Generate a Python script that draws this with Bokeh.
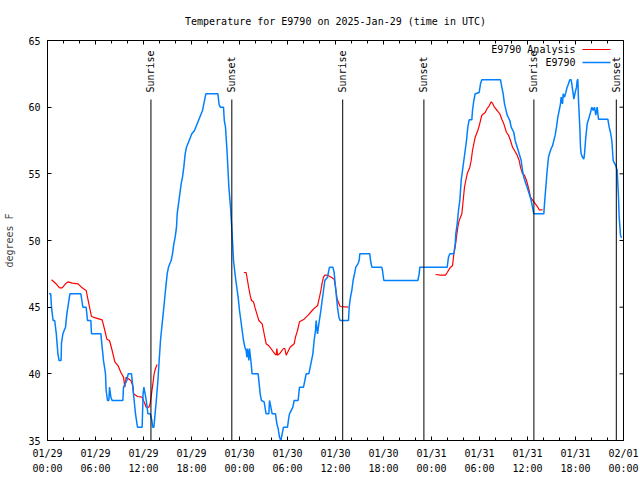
import math
from bokeh.plotting import figure
from bokeh.models import Range1d, FixedTicker, LinearAxis
from bokeh.embed import file_html
from bokeh.resources import INLINE
from bokeh.core.properties import value

FONT = "DejaVu Sans Mono"
NAN = float("nan")

title_text = "Temperature for E9790 on 2025-Jan-29 (time in UTC)"
y_label = "degrees F"
series_names = ["E9790 Analysis", "E9790"]

# hours since 2025-01-29 00:00 UTC
x_tick_hours = list(range(0, 73, 6))
x_tick_labels = ["01/29\n00:00", "01/29\n06:00", "01/29\n12:00", "01/29\n18:00",
                 "01/30\n00:00", "01/30\n06:00", "01/30\n12:00", "01/30\n18:00",
                 "01/31\n00:00", "01/31\n06:00", "01/31\n12:00", "01/31\n18:00",
                 "02/01\n00:00"]
x_minor_hours = [h for h in range(0, 73, 2) if h % 6 != 0]
y_ticks = [35, 40, 45, 50, 55, 60, 65]

sunrise_hours = [12.93, 36.9, 60.8]
sunset_hours = [23.04, 47.05, 71.1]

# observed temperature (E9790)
obs_hours = [0.2, 0.4, 0.5, 0.7, 0.9, 1.1, 1.3, 1.45, 1.7, 1.75, 1.92, 2.25, 2.42, 2.55, 2.8,
             4.17, 4.3, 4.42, 4.83, 5.0, 5.42, 5.5, 6.67, 6.83, 7.0, 7.25, 7.33, 7.5, 7.67, 7.75,
             7.92, 8.08, 9.42, 9.5, 9.92, 10.08, 10.5, 10.67, 10.83, 11.0, 11.25, 11.83, 11.95,
             12.05, 12.2, 12.35, 12.55, 12.85, 13.05, 13.15, 13.3, 13.45, 13.6, 13.8, 13.96,
             14.125, 14.29, 14.46, 14.625, 14.79, 14.96, 15.125, 15.29, 15.46, 15.625, 15.79,
             15.96, 16.125, 16.21, 16.375, 16.54, 16.71, 16.875, 17.04, 17.21, 17.375, 17.71,
             18.04, 18.375, 18.71, 19.04, 19.375, 19.54, 19.79, 21.3, 21.45, 21.6, 22.0, 22.1,
             22.25, 22.46, 22.67, 22.875, 23.08, 23.25, 23.54, 23.83, 24.0, 24.17, 24.33, 24.5,
             24.67, 24.83, 24.92, 25.0, 25.17, 25.25, 25.42, 25.58, 26.33, 26.5, 26.58, 26.75,
             27.08, 27.25, 27.33, 27.67, 27.75, 27.92, 28.08, 28.5, 28.67, 28.83, 29.0, 29.17,
             29.33, 29.5, 30.0, 30.17, 30.25, 30.67, 30.83, 31.33, 31.5, 32.0, 32.17, 32.33,
             32.67, 32.92, 33.17, 33.33, 33.5, 33.58, 33.75, 33.92, 34.17, 34.33, 34.5, 34.67,
             35.0, 35.25, 35.67, 35.83, 36.0, 36.25, 36.42, 36.58, 37.625, 37.71, 37.875, 38.04,
             38.2, 38.375, 38.54, 38.8, 38.96, 39.04, 40.29, 40.375, 40.54, 41.79, 41.875, 42.04,
             46.29, 46.46, 46.54, 49.96, 50.125, 50.29, 50.79, 50.96, 51.04, 51.21, 51.375,
             51.54, 51.71, 51.875, 52.04, 52.21, 52.375, 52.54, 52.71, 53.04, 53.125, 53.29,
             53.46, 53.96, 54.125, 54.29, 56.625, 56.79, 56.96, 57.125, 57.46, 57.79, 57.96,
             58.29, 58.46, 58.71, 58.96, 59.21, 59.375, 59.54, 59.79, 59.96, 60.21, 60.46,
             60.625, 60.79, 62.04, 62.125, 62.29, 62.46, 62.625, 62.79, 62.96, 63.125, 63.29,
             63.46, 63.625, 63.79, 63.96, 64.125, 64.21, 64.375, 64.46, 64.625, 64.79, 64.96,
             65.125, 65.29, 65.46, 65.54, 65.71, 65.79, 65.96, 66.125, 66.21, 66.29, 66.375,
             66.54, 66.625, 66.71, 66.875, 67.04, 67.125, 67.29, 67.46, 67.71, 67.875, 68.04,
             68.21, 68.375, 68.54, 68.71, 68.875, 70.04, 70.21, 70.375, 70.54, 70.71, 71.04,
             71.21, 71.375, 71.46, 71.625, 71.75]
obs_temps = [46, 46, 45, 44, 44, 43, 41.5, 41, 41, 42.3, 43, 43.5, 44.5, 45, 46,
             46, 45.5, 45, 45, 44, 44, 43, 43, 42, 41, 40, 38.75, 38, 38, 39,
             38.25, 38, 38, 39, 39.5, 40, 40, 39, 38, 37, 36, 36, 38.5,
             39, 38.5, 38, 37, 37, 36.5, 36, 36, 37, 38, 39.5, 41,
             42.5, 43.5, 44.5, 45.5, 46.5, 47.5, 48, 48.25, 48.5, 49, 49.75,
             50.25, 51, 52, 52.75, 53.5, 54.25, 54.75, 55.5, 56.5, 57, 57.5,
             58, 58.25, 58.75, 59.25, 59.75, 60.25, 61, 61, 60.2, 60, 60, 59,
             58.5, 56.5, 54, 52.5, 50.5, 48.5, 47, 45.75, 44.75, 44, 43.25, 42.5,
             42, 41.75, 41.25, 41.9, 41, 41.9, 41, 40, 40, 39, 38.5, 38,
             37.9, 37.25, 37, 37, 38, 37.5, 37, 37, 36.25, 35.9, 35.25, 35,
             35.5, 36, 36, 36.75, 37, 37.5, 38, 38, 39, 39, 39.5, 40,
             40, 40.75, 41.5, 42.5, 43.25, 44, 43, 43.75, 44.75, 45.5, 46.25, 47,
             47.25, 48, 48, 47.6, 46.5, 45, 44.25, 44, 44, 45, 45.75, 46.25,
             47, 47.5, 48, 48.25, 48.5, 49, 49, 48.5, 48, 48, 47.75, 47,
             47, 47.5, 48, 48, 48.75, 49, 49, 49.75, 50.5, 51.25, 52.25,
             53, 54.5, 55.25, 56, 56.75, 57.5, 58.5, 59.05, 59.05, 59.75, 60.5,
             61, 61.1, 61.75, 62.05, 62.05, 61.5, 61, 60.25, 59.4, 59, 58.5,
             58.1, 57.5, 57, 56.5, 56, 55.25, 54.75, 54.25, 54, 53.5, 53,
             52.5, 52, 52, 52.75, 54, 55.25, 56.25, 56.6, 56.9, 57.1, 57.5,
             57.9, 58.5, 59.25, 59.75, 60.25, 60.75, 60.25, 61, 60.75, 61.1, 61.5,
             61.75, 62.05, 62.05, 61.75, 61, 60.6, 61.1, 61.5, 62, 62.1, 60.5,
             58.5, 57, 56.5, 56.25, 56.1, 56.5, 57.75, 58.75, 59.25, 59.6, 60,
             59.75, 60, 59.4, 60, 59.1, 59.1, 58.5, 58.1, 57.5, 56, 55.6,
             55.25, 53.25, 51.75, 50.4, 50.2]

# analysis temperature (E9790 Analysis); NaN = no analysis
ana_hours = [0.5, 1.0, 1.5, 1.83, 2.33, 2.58, 3.08, 3.83, 4.33, 4.83, 5.0, 5.17, 5.5, 6.0,
             6.83, 7.17, 7.42, 7.75, 8.08, 8.42, 8.83, 9.17, 9.5, 9.67, 9.83, 10.42, 10.67,
             10.75, 11.25, 11.83, 12.17, 12.33, 12.67, 12.83, 13.0, 13.17, 13.33, 13.5, 13.7,
             18.0,
             24.54, 24.83, 25.0, 25.17, 25.33, 25.5, 25.75, 25.92, 26.17, 26.42, 26.83, 27.0,
             27.33, 27.67, 27.92, 28.42, 28.58, 28.67, 28.75, 29.0, 29.5, 29.67, 29.83, 30.08,
             30.33, 30.83, 31.0, 31.25, 31.5, 32.08, 32.58, 33.08, 33.5, 33.75, 34.0, 34.17,
             34.33, 34.5, 34.67, 35.0, 35.58, 35.83, 36.0, 36.17, 36.33, 36.58, 37.6,
             43.0,
             48.5, 49.125, 49.75, 49.96, 50.375, 50.625, 50.79, 50.96, 51.125, 51.29, 51.46,
             51.79, 51.96, 52.125, 52.29, 52.46, 52.79, 52.96, 53.125, 53.29, 53.46, 53.79,
             53.96, 54.125, 54.29, 54.71, 54.96, 55.21, 55.46, 55.625, 55.875, 56.21, 56.54,
             56.79, 57.04, 57.375, 57.625, 57.875, 58.125, 58.375, 58.71, 58.96, 59.125,
             59.375, 59.625, 59.875, 60.21, 60.375, 60.79, 61.29, 61.46, 61.875]
ana_temps = [47.05, 46.8, 46.45, 46.45, 46.8, 46.9, 46.8, 46.75, 46.45, 46.25, 45.75, 45.25, 44.3, 44.2,
             44.05, 43.25, 42.6, 42.5, 41.75, 40.9, 40.6, 40.1, 39.75, 39, 39.75, 39.5, 39.1,
             38.5, 38.3, 38.25, 37.75, 37.5, 37.5, 37.75, 38.5, 39.25, 40, 40.4, 40.7,
             NAN,
             47.6, 47.6, 47, 46.4, 45.9, 45.5, 45.4, 45, 44.5, 44, 43.75, 43.25,
             42.25, 42.1, 41.9, 41.5, 41.4, 41.9, 41.4, 41.5, 41.9, 41.9, 41.4, 41.7,
             42, 42.25, 42.75, 43.25, 43.9, 44.1, 44.4, 44.75, 45, 45.1, 45.75, 46.25,
             46.8, 47.25, 47.4, 47.4, 47.2, 47.1, 46.5, 45.75, 45.4, 45.05, 45.0,
             NAN,
             47.45, 47.4, 47.4, 47.6, 48, 48.1, 49, 49.5, 50.25, 51, 51.5,
             52, 53, 54, 54.5, 55, 55.5, 56, 56.75, 57.25, 57.75, 58.25,
             58.6, 59, 59.4, 59.6, 59.9, 60.1, 60.4, 60.3, 60, 59.75, 59.5,
             59.1, 58.75, 58.1, 57.9, 57.5, 57, 56.75, 56.4, 56, 55.5,
             55, 54.9, 54.5, 53.75, 53.25, 52.9, 52.5, 52.3, 52.3]

RED = "#ff0000"
BLUE = "#0080ff"

# frame geometry in pixels (for placing legend / marker labels / mirrored ticks)
FL, FR, FT, FB = 47, 623, 40, 440
X0, X1, Y0, Y1 = 0, 72, 35, 65
DX = (X1 - X0) / (FR - FL)   # hours per pixel
DY = (Y1 - Y0) / (FB - FT)   # degrees per pixel


def px_x(px):
    return X0 + (px - FL) * DX


def px_y(py):
    return Y1 - (py - FT) * DY


p = figure(width=640, height=480, output_backend="svg", toolbar_location=None,
           title=None,
           x_range=Range1d(X0, X1), y_range=Range1d(Y0, Y1),
           x_axis_type=None, y_axis_type=None,
           min_border_left=FL, min_border_right=640 - FR,
           min_border_top=FT, min_border_bottom=480 - FB)
p.grid.visible = False
p.outline_line_color = "black"
p.outline_line_width = 1
p.background_fill_color = "white"
p.border_fill_color = "white"

xt = FixedTicker(ticks=x_tick_hours, minor_ticks=x_minor_hours)
yt = FixedTicker(ticks=y_ticks, minor_ticks=[])


def style(ax):
    ax.axis_line_color = "black"
    ax.major_tick_in = 4
    ax.major_tick_out = 0
    ax.minor_tick_in = 3
    ax.minor_tick_out = 0
    ax.major_tick_line_color = "black"
    ax.minor_tick_line_color = "black"
    ax.major_label_text_font = FONT
    ax.major_label_text_font_size = "10px"
    ax.major_label_text_color = "black"
    ax.major_label_standoff = 7


bottom = LinearAxis(ticker=xt, major_label_overrides={h: l for h, l in zip(x_tick_hours, x_tick_labels)})
style(bottom)
bottom.major_label_text_line_height = 1.4
left = LinearAxis(ticker=yt, axis_label=y_label)
style(left)
left.axis_label_text_font = FONT
left.axis_label_text_font_size = "10px"
left.axis_label_text_font_style = "normal"
left.axis_label_standoff = 10
p.add_layout(bottom, "below")
p.add_layout(left, "left")

# top border carries the chart title as its label (no ticks of its own)
top = LinearAxis(ticker=FixedTicker(ticks=[], minor_ticks=[]), axis_label=title_text)
top.axis_line_color = "black"
top.major_tick_in = 0
top.major_tick_out = 0
top.minor_tick_in = 0
top.minor_tick_out = 0
top.axis_label_text_font = FONT
top.axis_label_text_font_size = "10px"
top.axis_label_text_font_style = "normal"
top.axis_label_text_color = "black"
top.axis_label_standoff = 14
p.add_layout(top, "above")

# mirrored ticks on the top and right borders (gnuplot style)
top_major = x_tick_hours
top_minor = x_minor_hours
p.segment(x0=top_major, y0=[Y1] * len(top_major), x1=top_major, y1=[Y1 - 4 * DY] * len(top_major),
          line_color="black", line_width=1)
p.segment(x0=top_minor, y0=[Y1] * len(top_minor), x1=top_minor, y1=[Y1 - 3 * DY] * len(top_minor),
          line_color="black", line_width=1)
p.segment(x0=[X1] * len(y_ticks), y0=y_ticks, x1=[X1 - 4 * DX] * len(y_ticks), y1=y_ticks,
          line_color="black", line_width=1)

p.line(ana_hours, ana_temps, line_color=RED, line_width=1.2)
p.line(obs_hours, obs_temps, line_color=BLUE, line_width=1.5)

marks = sunrise_hours + sunset_hours
mark_text = ["Sunrise"] * len(sunrise_hours) + ["Sunset"] * len(sunset_hours)
p.segment(x0=marks, y0=[Y0] * len(marks), x1=marks, y1=[px_y(99)] * len(marks),
          line_color="black", line_width=1)
p.text(x=marks, y=[px_y(92)] * len(marks), text=mark_text, angle=math.pi / 2,
       text_align="left", text_baseline="middle", text_font=value(FONT),
       text_font_size="10px", text_color="black")

# legend (gnuplot style: text then sample line)
leg_y = [px_y(49), px_y(62)]
p.text(x=[px_x(575)] * 2, y=leg_y, text=series_names, text_align="right",
       text_baseline="middle", text_font=value(FONT), text_font_size="10px", text_color="black")
p.segment(x0=[px_x(582)] * 2, y0=leg_y, x1=[px_x(610)] * 2, y1=leg_y,
          line_color=[RED, BLUE], line_width=[1.2, 1.5])

open("out.html", "w").write(file_html(p, INLINE))
